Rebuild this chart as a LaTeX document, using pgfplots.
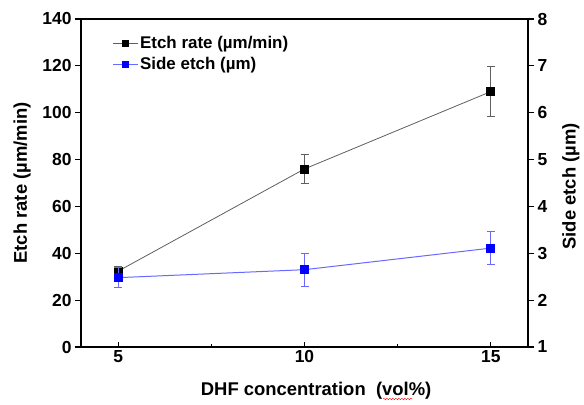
\documentclass[border=0pt]{standalone}
\usepackage{fontspec}
\setmainfont{Liberation Sans}
\usepackage{pgfplots}
\pgfplotsset{compat=1.18}
\usetikzlibrary{decorations.pathmorphing}
\definecolor{linegray}{RGB}{95,95,95}
\definecolor{sideblue}{RGB}{0,0,255}
\definecolor{lineblue}{RGB}{105,105,255}

\pgfplotstableread{
conc rate err
5  32.4 2.0
10 76.0 6.2
15 109.0 10.6
}\etchrate
\pgfplotstableread{
conc side err
5  2.48 0.22
10 2.65 0.35
15 3.11 0.35
}\sideetch

\pgfplotsset{
  common/.style={
    scale only axis, width=447bp, height=328bp,
    xmin=4, xmax=16,
    major tick length=6bp,
    /pgf/number format/assume math mode=true,
    ticklabel style={font=\fontsize{17.5}{20}\selectfont\bfseries},
    label style={font=\fontsize{18.5}{22}\selectfont\bfseries},
    axis line style={line width=1.4bp},
    tick style={black, line width=1.2bp},
  }
}

\begin{document}
\begin{tikzpicture}
\begin{axis}[common, name=ax1,
  ymin=0, ymax=140, ytick=\empty,
  extra y ticks={0,20,...,140},
  extra y tick style={tick align=outside, major tick length=6bp},
  tick align=inside,
  xtick={5,10,15}, minor xtick={7.5,12.5},
  major tick length=5bp, minor tick length=3bp,
  xtick pos=bottom, ytick pos=left,
  xlabel={DHF concentration\ \ (vol\%)},
  ylabel={Etch rate (µm/min)},
  xlabel style={at={(axis description cs:0.526,-0.133)}, anchor=center},
  ylabel style={at={(axis description cs:-0.132,0.5)}, anchor=center},
]
\addplot[linegray, line width=0.8bp, mark=square*, mark size=4bp,
  mark options={black, solid},
  error bars/.cd, y dir=both, y explicit,
  error bar style={linegray, line width=0.8bp},
  error mark options={rotate=90, mark size=4bp, linegray, line width=0.8bp}]
  table[x=conc, y=rate, y error=err]{\etchrate};
\end{axis}
\begin{axis}[common,
  ymin=1, ymax=8, ytick={1,...,8},
  tick align=outside,
  hide x axis, axis y line*=right,
  ylabel={Side etch (µm)},
  ylabel style={at={(axis description cs:1.096,0.49)}, anchor=center},
  legend style={draw=none, fill=none, at={(0.063,0.96)}, anchor=north west,
    font=\fontsize{17}{20}\selectfont\bfseries, row sep=3bp},
  legend cell align=left,
  legend image code/.code={%
    \draw[mark repeat=2, mark phase=2, #1] plot coordinates {(0bp,0bp) (12.5bp,0bp) (25bp,0bp)};},
]
\addlegendimage{linegray, line width=0.8bp, mark=square*, mark size=3bp, mark options={black}}
\addlegendentry{Etch rate (µm/min)}
\addlegendimage{lineblue, line width=0.8bp, mark=square*, mark size=3bp, mark options={sideblue}}
\addlegendentry{Side etch (µm)}
\addplot[lineblue, line width=1bp, mark=square*, mark size=4bp,
  mark options={sideblue, solid}, forget plot,
  error bars/.cd, y dir=both, y explicit,
  error bar style={lineblue, line width=1bp},
  error mark options={rotate=90, mark size=4bp, lineblue, line width=1bp}]
  table[x=conc, y=side, y error=err]{\sideetch};
\end{axis}
\draw[red, decorate, decoration={snake, amplitude=0.7bp, segment length=3bp}]
  ([shift={(302bp,-52bp)}]ax1.south west) -- ++(30bp,0);
\pgfresetboundingbox
\path ([shift={(-81bp,-58bp)}]ax1.south west) rectangle ([shift={(56bp,19bp)}]ax1.north east);
\end{tikzpicture}
\end{document}
